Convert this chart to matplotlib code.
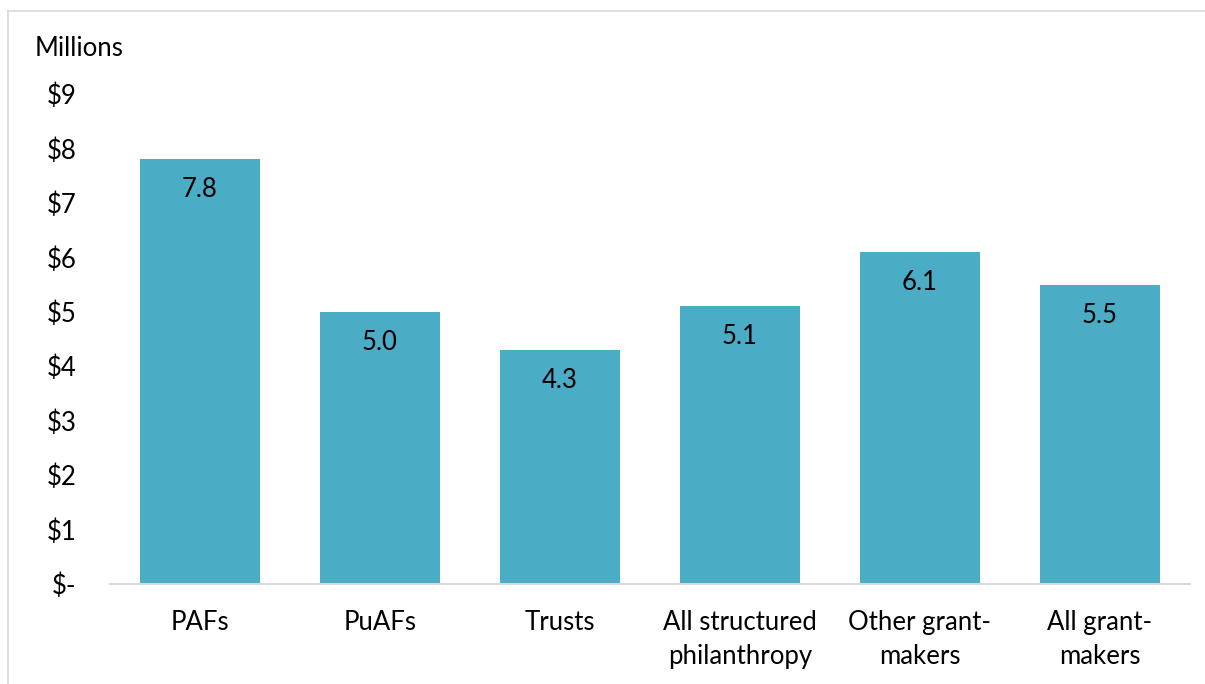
import matplotlib.pyplot as plt
from matplotlib.lines import Line2D

plt.rcParams['font.family'] = ['Lato', 'DejaVu Sans']

# average grant size by giver type (millions of dollars)
categories = ['PAFs', 'PuAFs', 'Trusts', 'All structured\nphilanthropy',
              'Other grant-\nmakers', 'All grant-\nmakers']
values = [7.8, 5.0, 4.3, 5.1, 6.1, 5.5]
yticks = [0, 1, 2, 3, 4, 5, 6, 7, 8, 9]
yticklabels = ['$-', '$1', '$2', '$3', '$4', '$5', '$6', '$7', '$8', '$9']

W, H = 1205, 684
fs = 18.5
fig = plt.figure(figsize=(W / 100, H / 100), dpi=100)
ax = fig.add_axes([110 / W, (H - 584) / H, 1080 / W, 490 / H])

x = range(len(categories))
bars = ax.bar(x, values, width=2 / 3, color='#4BACC6', zorder=2)

# value labels just inside the top of each bar
for xi, v in zip(x, values):
    ax.annotate(f'{v:.1f}', (xi, v), xytext=(0, -22), textcoords='offset points',
                ha='center', va='center', fontsize=fs, color='black')

ax.set_xlim(-0.5, len(categories) - 0.5)
ax.set_ylim(0, 9)
ax.set_xticks(list(x))
ax.set_xticklabels(categories, fontsize=fs, linespacing=1.45)
ax.set_yticks(yticks)
ax.set_yticklabels(yticklabels, fontsize=fs)
ax.tick_params(axis='both', length=0)
ax.tick_params(axis='y', pad=24)
ax.tick_params(axis='x', pad=19)

for s in ['top', 'right', 'left']:
    ax.spines[s].set_visible(False)
ax.spines['bottom'].set_color('#D9D9D9')
ax.spines['bottom'].set_linewidth(1.5)

fig.text(35 / W, (H - 48) / H, 'Millions', fontsize=fs, ha='left', va='center')

# light frame around the chart area
fig.add_artist(Line2D([8 / W, 8 / W], [0, (H - 11) / H], color='#D9D9D9', lw=1.2))
fig.add_artist(Line2D([8 / W, 1], [(H - 11) / H, (H - 11) / H], color='#D9D9D9', lw=1.2))

fig.savefig('out.png', dpi=100)
